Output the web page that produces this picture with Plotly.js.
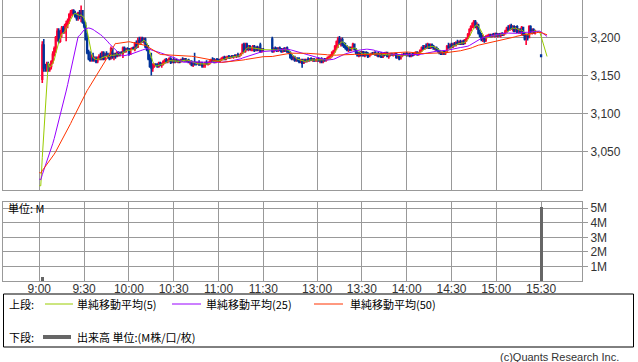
<!DOCTYPE html>
<html><head><meta charset="utf-8">
<script src="https://cdn.plot.ly/plotly-3.0.1.min.js"></script>
<style>html,body{margin:0;padding:0;background:#fff;}#chart{width:638px;height:362px;}</style>
</head><body><div id="chart"></div>
<script>
// ---------------- data ----------------
const tickLabels = ["9:00","9:30","10:00","10:30","11:00","11:30","13:00","13:30","14:00","14:30","15:00","15:30"];
const priceTicks = [3050,3100,3150,3200];
const volumeTicks = [1,2,3,4,5];
const maPeriods = [5,25,50];
const maNames = ["単純移動平均(5)","単純移動平均(25)","単純移動平均(50)"];

// morning 1-minute bars, consecutive from amStart
const amStart = "09:02";
const amOpen = [3145,3190,3160,3160,3165,3158,3162,3168,3178,3185,3200,3208,3195,3207,3212,3208,3215,3218,3222,3230,3233,3235,3232,3228,3225,3232,3228,3235,3220,3215,3198,3180,3172,3170,3175,3170,3172,3168,3172,3175,3172,3180,3172,3178,3176,3174,3172,3185,3175,3178,3175,3180,3177,3180,3179,3186,3182,3185,3185,3178,3185,3186,3185,3192,3188,3196,3194,3199,3195,3198,3188,3184,3172,3162,3160,3163,3164,3164,3162,3166,3164,3165,3168,3170,3168,3170,3172,3167,3170,3168,3170,3168,3169,3168,3171,3170,3172,3169,3170,3167,3168,3164,3167,3165,3165,3166,3164,3166,3163,3164,3167,3165,3166,3168,3170,3169,3167,3171,3170,3169,3171,3172,3174,3171,3174,3175,3173,3175,3174,3176,3175,3177,3175,3177,3179,3190,3182,3191,3185,3188,3184,3186,3188,3183,3187,3184,3190,3182,3184];
const amHigh = [3195,3198,3165,3168,3168,3165,3170,3182,3188,3202,3212,3212,3210,3215,3215,3218,3222,3225,3232,3236,3237,3237,3235,3232,3234,3236,3242,3236,3225,3220,3206,3184,3182,3178,3180,3175,3175,3175,3178,3180,3182,3182,3180,3182,3180,3178,3188,3186,3180,3180,3182,3182,3181,3182,3188,3188,3186,3187,3186,3186,3187,3188,3194,3196,3200,3201,3201,3201,3200,3200,3192,3190,3178,3180,3166,3166,3166,3166,3168,3168,3167,3170,3172,3173,3172,3174,3174,3172,3174,3172,3172,3171,3171,3172,3174,3173,3173,3171,3172,3170,3170,3168,3180,3168,3168,3170,3168,3168,3166,3168,3170,3168,3170,3172,3174,3173,3172,3173,3172,3172,3174,3175,3176,3175,3176,3177,3176,3177,3177,3178,3178,3180,3178,3180,3192,3193,3193,3193,3190,3190,3188,3190,3190,3188,3189,3188,3193,3186,3186];
const amLow = [3140,3155,3155,3155,3155,3155,3158,3165,3175,3180,3195,3192,3193,3200,3205,3205,3195,3212,3218,3225,3228,3230,3226,3222,3222,3224,3220,3218,3212,3196,3178,3170,3168,3168,3168,3168,3166,3166,3170,3170,3170,3170,3170,3175,3172,3170,3172,3172,3170,3172,3174,3175,3175,3178,3173,3180,3180,3183,3176,3178,3184,3184,3182,3185,3186,3192,3190,3193,3192,3186,3182,3170,3160,3150,3155,3160,3162,3160,3160,3162,3160,3163,3165,3166,3166,3168,3165,3166,3166,3166,3167,3166,3166,3167,3168,3168,3168,3167,3166,3164,3162,3161,3163,3163,3164,3163,3163,3160,3160,3160,3164,3163,3164,3166,3168,3166,3166,3168,3168,3167,3169,3170,3170,3170,3172,3172,3172,3173,3172,3174,3173,3174,3174,3176,3178,3180,3180,3183,3182,3183,3182,3182,3181,3182,3182,3182,3180,3180,3182];
const amClose = [3190,3160,3160,3165,3158,3162,3168,3178,3185,3200,3208,3195,3207,3212,3208,3215,3218,3222,3230,3233,3235,3232,3228,3225,3232,3228,3235,3220,3215,3198,3180,3172,3170,3175,3170,3172,3168,3172,3175,3172,3180,3172,3178,3176,3174,3172,3185,3175,3178,3175,3180,3177,3180,3179,3186,3182,3185,3185,3178,3185,3186,3185,3192,3188,3196,3194,3199,3195,3198,3188,3184,3172,3162,3160,3163,3164,3164,3162,3166,3164,3165,3168,3170,3168,3170,3172,3167,3170,3168,3170,3168,3169,3168,3171,3170,3172,3169,3170,3167,3168,3164,3167,3165,3165,3166,3164,3166,3163,3164,3167,3165,3166,3168,3170,3169,3167,3171,3170,3169,3171,3172,3174,3171,3174,3175,3173,3175,3174,3176,3175,3177,3175,3177,3179,3190,3182,3191,3185,3188,3184,3186,3188,3183,3187,3184,3186,3182,3184,3184];

// afternoon 1-minute bars, consecutive from pmStart
const pmStart = "12:30";
const pmOpen = [3198,3182,3185,3184,3183,3186,3184,3182,3185,3183,3186,3181,3180,3174,3172,3174,3170,3172,3169,3168,3170,3166,3170,3168,3171,3170,3172,3170,3171,3169,3170,3171,3169,3172,3168,3171,3170,3172,3173,3174,3176,3180,3182,3188,3194,3198,3192,3197,3190,3188,3186,3184,3186,3184,3186,3191,3184,3180,3176,3180,3177,3181,3176,3180,3178,3175,3178,3179,3179,3180,3177,3179,3175,3179,3174,3179,3177,3180,3175,3177,3178,3177,3178,3179,3174,3177,3172,3176,3178,3178,3179,3177,3178,3176,3178,3177,3179,3180,3178,3180,3183,3186,3185,3188,3187,3191,3186,3190,3188,3185,3186,3183,3182,3179,3178,3181,3180,3181,3188,3187,3190,3188,3191,3190,3193,3192,3194,3191,3195,3192,3197,3199,3204,3210,3214,3218,3221,3214,3216,3206,3202,3198,3200,3196,3201,3202,3203,3201,3204,3203,3205,3202,3204,3203,3205,3204,3205,3208,3212,3210,3215,3212,3214,3208,3214,3207,3210,3207,3213,3204,3198,3202,3200,3214,3208,3210,3206];
const pmHigh = [3201,3187,3188,3187,3187,3188,3186,3186,3187,3187,3188,3184,3182,3178,3176,3176,3174,3174,3174,3172,3172,3172,3172,3172,3174,3173,3174,3173,3173,3172,3173,3174,3173,3174,3172,3173,3173,3175,3176,3178,3182,3184,3190,3196,3201,3202,3200,3200,3194,3193,3190,3188,3188,3188,3193,3192,3186,3182,3181,3182,3182,3182,3181,3182,3181,3179,3180,3181,3181,3182,3180,3181,3180,3181,3180,3181,3181,3181,3178,3180,3180,3179,3180,3180,3178,3178,3177,3179,3180,3180,3181,3180,3180,3179,3180,3180,3182,3182,3181,3184,3188,3190,3190,3192,3193,3192,3192,3192,3190,3188,3188,3186,3184,3182,3182,3182,3182,3190,3193,3192,3193,3193,3194,3195,3197,3196,3197,3196,3197,3198,3200,3206,3212,3216,3220,3223,3223,3220,3218,3210,3206,3204,3202,3203,3204,3205,3205,3205,3206,3206,3206,3206,3206,3206,3207,3206,3210,3214,3216,3217,3218,3216,3216,3215,3216,3212,3212,3215,3214,3206,3204,3205,3216,3216,3212,3212,3210];
const pmLow = [3180,3180,3182,3181,3181,3182,3180,3180,3181,3181,3180,3178,3172,3170,3170,3168,3168,3168,3166,3166,3160,3165,3167,3167,3168,3168,3169,3168,3168,3168,3168,3168,3166,3166,3166,3168,3168,3170,3171,3172,3174,3178,3180,3184,3186,3190,3188,3188,3186,3184,3182,3181,3182,3182,3185,3183,3178,3175,3174,3175,3175,3175,3174,3176,3173,3174,3176,3177,3177,3176,3175,3174,3174,3173,3173,3175,3176,3174,3172,3175,3176,3175,3176,3172,3172,3170,3171,3174,3176,3176,3175,3175,3174,3174,3175,3176,3177,3176,3176,3179,3181,3184,3184,3185,3185,3185,3185,3186,3184,3183,3182,3180,3178,3177,3177,3177,3177,3180,3185,3185,3186,3186,3188,3188,3190,3190,3190,3190,3190,3191,3194,3198,3202,3208,3212,3212,3212,3210,3204,3200,3195,3194,3193,3194,3200,3200,3200,3200,3201,3200,3201,3200,3201,3200,3202,3202,3204,3206,3208,3209,3210,3208,3207,3207,3206,3205,3205,3203,3202,3196,3190,3196,3199,3206,3204,3205,3204];
const pmClose = [3182,3185,3184,3183,3186,3184,3182,3185,3183,3186,3181,3180,3174,3172,3174,3170,3172,3169,3168,3170,3166,3170,3168,3171,3170,3172,3170,3171,3169,3170,3171,3169,3172,3168,3171,3170,3172,3173,3174,3176,3180,3182,3188,3194,3198,3192,3197,3190,3188,3186,3184,3186,3184,3186,3191,3184,3180,3176,3180,3177,3181,3176,3180,3178,3175,3178,3179,3179,3180,3177,3179,3175,3179,3174,3179,3177,3180,3175,3177,3178,3177,3178,3179,3174,3177,3172,3176,3178,3178,3179,3177,3178,3176,3178,3177,3179,3180,3178,3180,3183,3186,3185,3188,3187,3191,3186,3190,3188,3185,3186,3183,3182,3179,3178,3181,3180,3181,3188,3187,3190,3188,3191,3190,3193,3192,3194,3191,3195,3192,3197,3199,3204,3210,3214,3218,3221,3214,3216,3206,3202,3198,3200,3196,3201,3202,3203,3201,3204,3203,3205,3202,3204,3203,3205,3204,3205,3208,3212,3210,3215,3212,3214,3208,3214,3207,3210,3207,3213,3204,3198,3202,3200,3214,3208,3210,3206,3208];

// closing auction print
const auctionTime = "15:30";
const auctionOpen = 3177, auctionHigh = 3177, auctionLow = 3175, auctionClose = 3175;

// previous-session closes feeding the moving averages (oldest first)
const prevCloses = [3035,3034,3033,3032,3032,3031,3031,3030,3030,3031,3032,3031,3030,3030,3029,3030,3031,3030,3029,3028,3028,3030,3031,3030,3032,
  3025,3024,3022,3020,3020,3018,3018,3017,3016,3015,3015,3014,3014,3013,3012,3012,3011,3011,3010,3008,
  3006,3005,3004,3005];
const maSessionAM = ["09:00","11:30"];
const maSessionPM = ["12:30","15:34"];

// volume (M shares)
const volumeTimes = ["09:02","15:30"];
const volumeValues = [0.3, 5.1];

// ---------------- helpers ----------------
const RED = "#ff0033", BLUE = "#003399";
const MA_COLORS = ["#99cc00","#9900ff","#ff3300"];
const GRID = "#999999";
function toMin(t){const p=t.split(":").map(Number);return p[0]*60+p[1];}
function fmt(m){return String(Math.floor(m/60)).padStart(2,"0")+":"+String(m%60).padStart(2,"0");}
const DAY0 = toMin("09:00"), AMEND = toMin("11:30"), PM0 = toMin("12:30");
const PM_SLOT = 156; // axis slot where the afternoon session starts
function pos(t){const m=toMin(t);return m<=AMEND ? m-DAY0 : m-PM0+PM_SLOT;}

// candles
const candles = [];
amOpen.forEach((o,i)=>candles.push({t:fmt(toMin(amStart)+i),o:o,h:amHigh[i],l:amLow[i],c:amClose[i]}));
pmOpen.forEach((o,i)=>candles.push({t:fmt(toMin(pmStart)+i),o:o,h:pmHigh[i],l:pmLow[i],c:pmClose[i]}));
candles.push({t:auctionTime,o:auctionOpen,h:auctionHigh,l:auctionLow,c:auctionClose});
const up = candles.filter(d=>d.c>d.o), dn = candles.filter(d=>d.c<=d.o);
function cTrace(arr,color){
  return {type:"candlestick",xaxis:"x",yaxis:"y",x:arr.map(d=>pos(d.t)),open:arr.map(d=>d.o),high:arr.map(d=>d.h),low:arr.map(d=>d.l),close:arr.map(d=>d.c),
    increasing:{line:{color:color,width:1.6},fillcolor:color},decreasing:{line:{color:color,width:1.6},fillcolor:color},
    whiskerwidth:0,hoverinfo:"skip",showlegend:false};
}
// moving averages (carry last close into minutes without trades)
const closeMap = new Map(candles.map(d=>[d.t,d.c]));
const slots = [];
[maSessionAM,maSessionPM].forEach(s=>{for(let m=toMin(s[0]);m<=toMin(s[1]);m++) slots.push(fmt(m));});
const series = prevCloses.slice(); let last = series[series.length-1];
const maX = [], maY = maPeriods.map(()=>[]);
slots.forEach(t=>{
  if(closeMap.has(t)) last = closeMap.get(t);
  series.push(last); maX.push(pos(t));
  maPeriods.forEach((p,k)=>{const w=series.slice(-p);maY[k].push(w.reduce((a,b)=>a+b,0)/p);});
});

const traces = [cTrace(up,RED), cTrace(dn,BLUE)];
maPeriods.forEach((p,k)=>traces.push({type:"scatter",mode:"lines",x:maX,y:maY[k],xaxis:"x",yaxis:"y",line:{color:MA_COLORS[k],width:1},hoverinfo:"skip",showlegend:false,name:maNames[k]}));
traces.push({type:"bar",x:volumeTimes.map(pos),y:volumeValues,xaxis:"x2",yaxis:"y2",width:2,marker:{color:"#666666",line:{width:0}},hoverinfo:"skip",showlegend:false});

// ---------------- layout ----------------
const W=638,H=362,ML=3,MR=56,MT=0,MB=81;
const PW=W-ML-MR, PH=H-MT-MB;
const px=x=>(x-ML)/PW, py=y=>(H-MB-y)/PH;
const tickPos = tickLabels.map(l=>pos(l.padStart(5,"0")));
const XR = [-24.3, 363.4];
const tickFont = {family:"Liberation Sans, Arial, sans-serif",size:12,color:"#333"};
const jp = {family:"Noto Sans CJK JP, sans-serif",size:11,color:"#000"};
const common = {showgrid:true,gridcolor:GRID,gridwidth:1,showline:true,mirror:true,linecolor:GRID,linewidth:1,zeroline:false,fixedrange:true};

const annotations = [
  {text:"単位: M",x:px(7),y:py(208),xanchor:"left",yanchor:"middle",font:jp},
  {text:"上段:",x:px(8),y:py(304),xanchor:"left",yanchor:"middle",font:jp},
  {text:maNames[0],x:px(76),y:py(304),xanchor:"left",yanchor:"middle",font:jp},
  {text:maNames[1],x:px(205),y:py(304),xanchor:"left",yanchor:"middle",font:jp},
  {text:maNames[2],x:px(349),y:py(304),xanchor:"left",yanchor:"middle",font:jp},
  {text:"下段:",x:px(8),y:py(337),xanchor:"left",yanchor:"middle",font:jp},
  {text:"出来高 単位:(M株/口/枚)",x:px(76),y:py(337),xanchor:"left",yanchor:"middle",font:jp},
  {text:"(c)Quants Research Inc.",x:px(620),y:py(357),xanchor:"right",yanchor:"middle",font:{family:"Liberation Sans, Arial, sans-serif",size:11,color:"#333"}}
].map(a=>Object.assign({xref:"paper",yref:"paper",showarrow:false,borderpad:0},a));

const shapes = [
  {type:"rect",x0:px(3.5),x1:px(633.5),y0:py(294),y1:py(347),line:{color:"#000",width:1}},
  {type:"line",x0:px(45),x1:px(73),y0:py(304),y1:py(304),line:{color:MA_COLORS[0],width:1}},
  {type:"line",x0:px(172),x1:px(201),y0:py(304),y1:py(304),line:{color:MA_COLORS[1],width:1}},
  {type:"line",x0:px(314),x1:px(343),y0:py(304),y1:py(304),line:{color:MA_COLORS[2],width:1}},
  {type:"line",x0:px(43),x1:px(71),y0:py(337),y1:py(337),line:{color:"#666666",width:4}}
].map(s=>Object.assign({xref:"paper",yref:"paper"},s));

const layout = {
  width:W,height:H,margin:{l:ML,r:MR,t:MT,b:MB,pad:0},
  paper_bgcolor:"#fff",plot_bgcolor:"#fff",showlegend:false,bargap:0,
  xaxis:Object.assign({},common,{anchor:"y",range:XR,tickvals:tickPos,showticklabels:false,ticks:"",rangeslider:{visible:false}}),
  yaxis:Object.assign({},common,{domain:[py(190),1],anchor:"x",side:"right",range:[2999.3,3249.3],tickvals:priceTicks,ticktext:priceTicks.map(v=>v.toLocaleString("en-US")),ticks:"outside",ticklen:5,tickcolor:GRID,tickfont:tickFont}),
  xaxis2:Object.assign({},common,{anchor:"y2",range:XR,tickvals:tickPos,ticktext:tickLabels,ticks:"",ticklabelstandoff:-3,tickfont:tickFont}),
  yaxis2:Object.assign({},common,{domain:[0,py(202)],anchor:"x2",side:"right",range:[0,5.43],tickvals:volumeTicks,ticktext:volumeTicks.map(v=>v+"M"),ticks:"outside",ticklen:5,tickcolor:GRID,tickfont:tickFont}),
  annotations:annotations,shapes:shapes
};
Plotly.newPlot("chart",traces,layout,{staticPlot:true,displayModeBar:false});
</script></body></html>
